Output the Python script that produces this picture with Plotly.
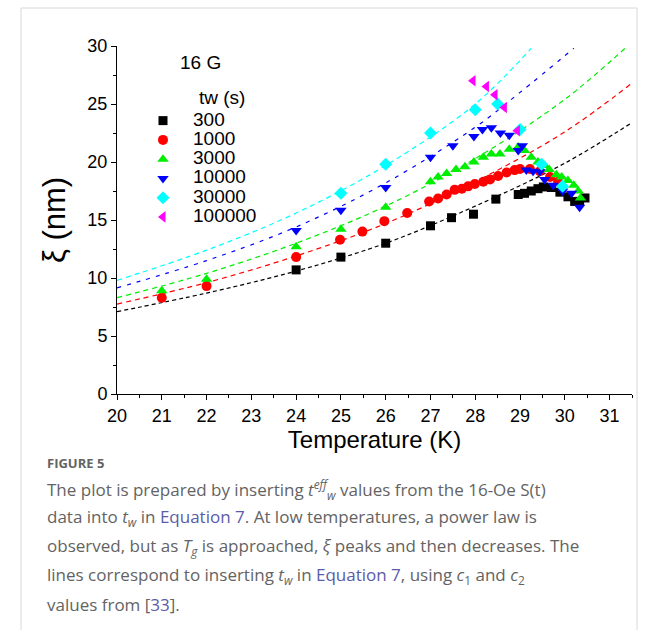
import plotly.graph_objects as go

# ---------------- data ----------------
T_300 = [24, 25, 26, 27, 27.47, 27.96, 28.46, 28.96, 29.1, 29.25, 29.4, 29.52, 29.7, 29.89, 30.07, 30.22, 30.33, 30.45]
X_300 = [10.7, 11.8, 13.0, 14.5, 15.2, 15.5, 16.8, 17.2, 17.3, 17.5, 17.7, 17.85, 17.8, 17.4, 17.0, 16.6, 16.6, 16.9]

T_1000 = [21, 22, 24, 24.98, 25.48, 25.97, 26.48, 26.97, 27.17, 27.36, 27.54, 27.7, 27.84, 27.99, 28.18, 28.33, 28.51,
          28.7, 28.88, 29.0, 29.22, 29.44, 29.67, 29.85]
X_1000 = [8.3, 9.3, 11.8, 13.3, 14.0, 14.9, 15.6, 16.6, 16.85, 17.2, 17.6, 17.7, 17.9, 18.1, 18.3, 18.5, 18.8,
          19.1, 19.3, 19.4, 19.4, 19.2, 18.7, 18.3]

T_3000 = [21, 22, 24, 25, 26, 27, 27.17, 27.36, 27.57, 27.77, 27.97, 28.18, 28.36, 28.55, 28.76, 28.96, 29.1,
          29.25, 29.4, 29.55, 29.65, 29.81, 29.93, 30.07, 30.2, 30.3, 30.35]
X_3000 = [8.9, 9.9, 12.7, 14.2, 16.1, 18.3, 18.7, 19.0, 19.35, 19.6, 20.0, 20.4, 20.7, 20.7, 21.1, 21.3, 21.0,
          20.4, 20.0, 19.7, 19.35, 18.9, 18.7, 18.4, 18.0, 17.5, 16.9]

T_10000 = [24, 25, 26, 27, 27.5, 27.97, 28.16, 28.36, 28.56, 28.76, 28.96, 29.05, 29.14, 29.29, 29.44, 29.55,
           29.74, 29.95, 30.15, 30.33]
X_10000 = [14.1, 15.85, 17.8, 20.4, 21.4, 22.2, 22.8, 22.95, 22.5, 22.3, 21.0, 21.4, 19.3, 19.2, 19.15, 18.5,
           18.0, 17.5, 17.3, 16.1]

T_30000 = [25, 26, 27, 28, 28.5, 29, 29.48, 29.95]
X_30000 = [17.3, 19.8, 22.5, 24.5, 25.0, 22.8, 19.8, 17.9]

T_100000 = [27.95, 28.25, 28.44, 28.65, 28.94]
X_100000 = [27.0, 26.5, 25.8, 24.7, 22.7]

# fitted curves (Equation 7)
Tfit_300 = [20, 22, 24, 26, 28, 30, 31.5]
Xfit_300 = [7.1, 8.7, 10.6, 13.0, 16.2, 19.9, 23.4]
Tfit_1000 = [20, 22, 24, 26, 28, 30, 31.5]
Xfit_1000 = [7.75, 9.6, 11.9, 14.7, 18.3, 22.6, 26.8]
Tfit_3000 = [20, 22, 24, 26, 28, 30, 31.4]
Xfit_3000 = [8.3, 10.4, 13.0, 16.2, 20.3, 25.4, 30.0]
Tfit_10000 = [20, 22, 24, 26, 28, 29, 30.2]
Xfit_10000 = [9.15, 11.5, 14.4, 18.2, 23.0, 26.0, 29.8]
Tfit_30000 = [20, 22, 24, 26, 28, 29.25]
Xfit_30000 = [9.8, 12.4, 15.6, 19.7, 25.0, 29.8]

series = [
    ("300", T_300, X_300, Tfit_300, Xfit_300, "#000000", "square", "4px,3px"),
    ("1000", T_1000, X_1000, Tfit_1000, Xfit_1000, "#ff0000", "circle", "5px,4px"),
    ("3000", T_3000, X_3000, Tfit_3000, Xfit_3000, "#00ee00", "triangle-up", "5px,4px"),
    ("10000", T_10000, X_10000, Tfit_10000, Xfit_10000, "#0000ff", "triangle-down", "4px,6px"),
    ("30000", T_30000, X_30000, Tfit_30000, Xfit_30000, "#00ffff", "diamond", "5px,4px"),
    ("100000", T_100000, X_100000, None, None, "#ff00ff", "triangle-left", None),
]

FONT = "Arial, Liberation Sans, sans-serif"

fig = go.Figure()

for name, t, x, tf, xf, col, sym, dash in series:
    if tf is not None:
        fig.add_trace(go.Scatter(x=tf, y=xf, mode="lines", line=dict(color=col, width=1.2, dash=dash, shape="spline"),
                                 showlegend=False, hoverinfo="skip"))

for name, t, x, tf, xf, col, sym, dash in series:
    fig.add_trace(go.Scatter(x=t, y=x, mode="markers",
                             name=f"<span style='font-size:19px'>{name}</span>",
                             marker=dict(symbol=sym, color=col, size=10 if sym != "square" else 9,
                                         line=dict(width=0))))

axis_font = dict(family=FONT, size=18, color="#000")

fig.update_layout(
    width=658, height=630,
    margin=dict(l=117, r=26, t=46, b=236),
    plot_bgcolor="white", paper_bgcolor="white",
    font=dict(family=FONT, size=18, color="#000"),
    xaxis=dict(range=[20, 31.5], dtick=1, tick0=20, showgrid=False, zeroline=False,
               showline=True, linecolor="black", linewidth=1, ticks="outside", ticklen=5,
               tickcolor="black", tickfont=axis_font,
               minor=dict(dtick=0.5, ticks="outside", ticklen=3, tickcolor="black", showgrid=False),
               title=dict(text="Temperature (K)", font=dict(family=FONT, size=24), standoff=0)),
    yaxis=dict(range=[0, 30], dtick=5, showgrid=False, zeroline=False,
               showline=True, linecolor="black", linewidth=1, ticks="outside", ticklen=5,
               tickcolor="black", tickfont=axis_font,
               minor=dict(dtick=2.5, ticks="outside", ticklen=3, tickcolor="black", showgrid=False),
               title=dict(text="ξ (nm)", font=dict(family=FONT, size=31), standoff=12)),
    legend=dict(x=(133 - 117) / 515, y=(394 - 106) / 348, xanchor="left", yanchor="top",
                bgcolor="rgba(0,0,0,0)", font=dict(family=FONT, size=12.5), tracegroupgap=0,
                itemwidth=50),
    showlegend=True,
)

# legend heading and field label
fig.add_annotation(x=(222 - 117) / 515, y=(394 - 97) / 348, xref="paper", yref="paper", text="tw (s)",
                   showarrow=False, font=dict(family=FONT, size=19), xanchor="center", yanchor="middle")
fig.add_annotation(x=(200 - 117) / 515, y=(394 - 62) / 348, xref="paper", yref="paper", text="16 G",
                   showarrow=False, font=dict(family=FONT, size=19), xanchor="center", yanchor="middle")

# outer frame
fig.add_shape(type="rect", xref="paper", yref="paper",
              x0=(21 - 117) / 515, x1=(637 - 117) / 515, y0=(394 - 640) / 348, y1=(394 - 8) / 348,
              line=dict(color="#d8d8d8", width=1), layer="below")

cap_font = "Open Sans, Lato, sans-serif"
gray = "#636363"
link = "#5b5ba8"


def py(p):
    return (394 - p) / 348


x0 = (45 - 117) / 515
fig.add_annotation(x=x0, y=py(463), xref="paper", yref="paper", xanchor="left", yanchor="middle",
                   text="<b>FIGURE 5</b>", showarrow=False, font=dict(family=cap_font, size=13, color=gray))
lines = [
    "The plot is prepared by inserting <i>t</i><sup><i>eff</i></sup><sub><i>w</i></sub> values from the 16-Oe S(t)",
    f"data into <i>t<sub>w</sub></i> in <span style='color:{link}'>Equation 7</span>. At low temperatures, a power law is",
    "observed, but as <i>T<sub>g</sub></i> is approached, <i>ξ</i> peaks and then decreases. The",
    f"lines correspond to inserting <i>t<sub>w</sub></i> in <span style='color:{link}'>Equation 7</span>, using <i>c</i><sub>1</sub> and <i>c</i><sub>2</sub>",
    f"values from [<span style='color:{link}'>33</span>].",
]
for i, ln in enumerate(lines):
    fig.add_annotation(x=x0, y=py(489 + i * 28.8), xref="paper", yref="paper", xanchor="left", yanchor="middle",
                       text=ln, showarrow=False, font=dict(family=cap_font, size=17, color=gray))

fig.write_html("out.html")
